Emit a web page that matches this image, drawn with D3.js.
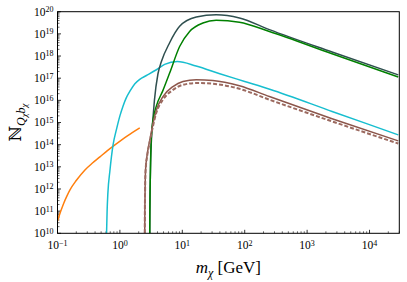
<!DOCTYPE html>
<html>
<head>
<meta charset="utf-8">
<script src="https://cdn.jsdelivr.net/npm/d3@7"></script>
<style>
  body { margin: 0; background: #fff; }
  text { font-family: "Liberation Serif", "DejaVu Serif", serif; }
</style>
</head>
<body>
<div id="chart"></div>
<script>
// values, as log10(m_chi) and log10(N)
var orangeM = [-1, -0.95, -0.9, -0.85, -0.8, -0.7, -0.56, -0.44, -0.32, -0.2, -0.08, 0.12, 0.318];
var orangeN = [10.55, 10.98, 11.36, 11.68, 11.96, 12.38, 12.86, 13.17, 13.45, 13.73, 13.99, 14.4, 14.76];

var cyanM = [-0.214, -0.205, -0.193, -0.161, -0.109, -0.054, 0.0, 0.051, 0.1, 0.158, 0.24, 0.318, 0.425, 0.585, 0.717, 0.92, 1.22, 1.6, 2.0, 2.4, 3.4, 4.46];
var cyanN = [10.0, 11.0, 11.8, 12.8, 14.0, 14.7, 15.3, 15.75, 16.1, 16.4, 16.75, 16.95, 17.12, 17.38, 17.62, 17.75, 17.55, 17.2, 16.85, 16.5, 15.5, 14.44];

var slateM = [0.478, 0.48, 0.484, 0.492, 0.505, 0.53, 0.553, 0.61, 0.665, 0.797, 0.957, 1.224, 1.543, 1.915, 2.395, 3.4, 4.46];
var slateN = [10.0, 11.0, 12.0, 13.2, 14.2, 15.2, 16.0, 17.2, 17.75, 18.6, 19.34, 19.76, 19.86, 19.72, 19.19, 18.18, 17.15];

var greenM = [0.478, 0.48, 0.484, 0.492, 0.505, 0.54, 0.585, 0.69, 0.797, 0.957, 1.117, 1.33, 1.543, 1.915, 2.395, 3.4, 4.46];
var greenN = [10.0, 11.0, 12.0, 13.3, 14.4, 15.25, 15.75, 16.45, 17.23, 18.43, 19.11, 19.49, 19.61, 19.52, 19.11, 18.1, 17.05];

var brownM = [0.398, 0.4, 0.404, 0.412, 0.44, 0.478, 0.585, 0.69, 0.85, 1.01, 1.224, 1.49, 1.915, 2.395, 3.4, 4.46];
var brownN = [10.0, 11.0, 12.0, 12.9, 13.6, 14.2, 15.57, 16.17, 16.62, 16.85, 16.93, 16.9, 16.66, 16.17, 15.17, 14.17];

var brownDashN = [10.0, 11.0, 12.0, 12.85, 13.55, 14.12, 15.45, 16.03, 16.47, 16.7, 16.78, 16.75, 16.52, 16.03, 15.05, 14.05];

var xTicks = [-1, 0, 1, 2, 3, 4];
var yTicks = [10, 11, 12, 13, 14, 15, 16, 17, 18, 19, 20];

// set the dimensions and margins of the graph
var margin = { top: 11.7, right: 7.7, bottom: 48.7, left: 57.5 },
    width = 407 - margin.left - margin.right,
    height = 282 - margin.top - margin.bottom;

var svg = d3.select("#chart")
    .append("svg")
    .attr("width", 407)
    .attr("height", 282)
    .append("g")
    .attr("transform", "translate(" + margin.left + "," + margin.top + ")");

var x = d3.scaleLog().domain([0.1, 3e4]).range([0, width]);
var y = d3.scaleLog().domain([1e10, 1e20]).range([height, 0]);

svg.append("clipPath").attr("id", "clip")
    .append("rect").attr("width", width).attr("height", height);

// minor ticks
function minors(lo, hi) {
    var out = [];
    for (var e = lo; e < hi; e++) {
        for (var k = 2; k <= 9; k++) out.push(k * Math.pow(10, e));
    }
    return out;
}
var xMinor = minors(-1, 5).filter(function (v) { return v <= 3e4; });
var yMinor = minors(10, 20);

svg.append("g").selectAll("line").data(xMinor).enter().append("line")
    .attr("x1", function (d) { return x(d); }).attr("x2", function (d) { return x(d); })
    .attr("y1", height).attr("y2", height - 2)
    .attr("stroke", "#000").attr("stroke-width", 0.6);
svg.append("g").selectAll("line").data(yMinor).enter().append("line")
    .attr("y1", function (d) { return y(d); }).attr("y2", function (d) { return y(d); })
    .attr("x1", 0).attr("x2", 2)
    .attr("stroke", "#000").attr("stroke-width", 0.6);

// major ticks
svg.append("g").selectAll("line").data(xTicks).enter().append("line")
    .attr("x1", function (d) { return x(Math.pow(10, d)); }).attr("x2", function (d) { return x(Math.pow(10, d)); })
    .attr("y1", height).attr("y2", height - 3.5)
    .attr("stroke", "#000").attr("stroke-width", 0.8);
svg.append("g").selectAll("line").data(yTicks).enter().append("line")
    .attr("y1", function (d) { return y(Math.pow(10, d)); }).attr("y2", function (d) { return y(Math.pow(10, d)); })
    .attr("x1", 0).attr("x2", 3.5)
    .attr("stroke", "#000").attr("stroke-width", 0.8);

function expLabel(sel, d) {
    sel.append("tspan").text("10");
    sel.append("tspan").attr("dy", "-0.45em").attr("font-size", "8px")
        .text(String(d).replace("-", "\u2212"));
}

svg.append("g").selectAll("text").data(xTicks).enter().append("text")
    .attr("x", function (d) { return x(Math.pow(10, d)); })
    .attr("y", height + 16)
    .attr("text-anchor", "middle")
    .attr("font-size", "11.5px")
    .each(function (d) { expLabel(d3.select(this), d); });

svg.append("g").selectAll("text").data(yTicks).enter().append("text")
    .attr("x", -4)
    .attr("y", function (d) { return y(Math.pow(10, d)) + 4; })
    .attr("text-anchor", "end")
    .attr("font-size", "11.5px")
    .each(function (d) { expLabel(d3.select(this), d); });

// curves
var line = d3.line()
    .x(function (d) { return x(Math.pow(10, d[0])); })
    .y(function (d) { return y(Math.pow(10, d[1])); })
    .curve(d3.curveMonotoneX);

function draw(ms, ns, color, dash, w) {
    svg.append("path")
        .datum(d3.zip(ms, ns))
        .attr("clip-path", "url(#clip)")
        .attr("fill", "none")
        .attr("stroke", color)
        .attr("stroke-width", w)
        .attr("stroke-dasharray", dash)
        .attr("d", line);
}

draw(orangeM, orangeN, "#ff7f0e", null, 1.5);
draw(cyanM, cyanN, "#17becf", null, 1.5);
draw(slateM, slateN, "#2f4f4f", null, 1.5);
draw(greenM, greenN, "#008000", null, 1.5);
draw(brownM, brownN, "#8c564b", null, 1.5);
draw(brownM, brownDashN, "#9c6a60", "4,2", 2);

// frame
svg.append("rect")
    .attr("width", width).attr("height", height)
    .attr("fill", "none").attr("stroke", "#000").attr("stroke-width", 1);

// X axis label
svg.append("text")
    .attr("text-anchor", "middle")
    .attr("x", width / 2)
    .attr("y", height + 40)
    .attr("font-size", "17px")
    .html('<tspan font-style="italic">m</tspan><tspan font-style="italic" font-size="12px" dy="4">\u03c7</tspan><tspan dy="-4"> [GeV]</tspan>');

// Y axis label
svg.append("text")
    .attr("text-anchor", "middle")
    .attr("transform", "translate(" + (-37) + "," + (height / 2) + ") rotate(-90)")
    .attr("font-size", "17px")
    .html('<tspan>\u2115</tspan><tspan font-style="italic" font-size="12px" dy="4">Q</tspan><tspan font-style="italic" font-size="9px" dy="2">\u03c7</tspan><tspan font-style="italic" font-size="12px" dy="-2">b</tspan><tspan font-style="italic" font-size="9px" dy="2">\u03c7</tspan>');
</script>
</body>
</html>
